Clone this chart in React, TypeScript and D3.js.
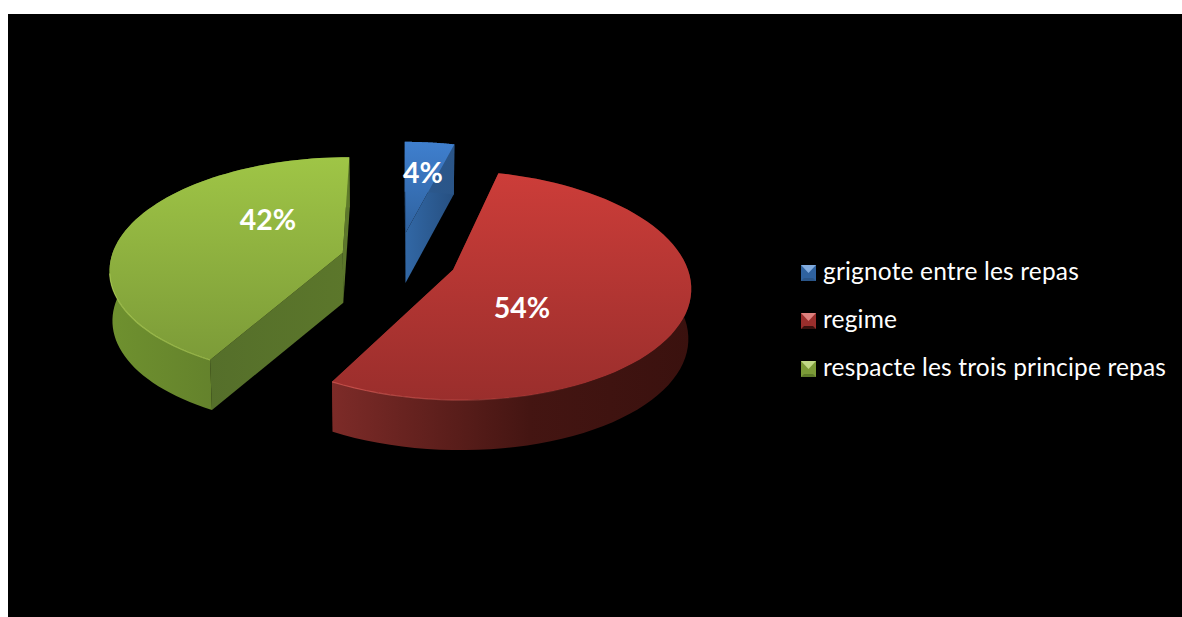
import React from "react";
import * as d3 from "d3";

// Chart content
const categories = ["grignote entre les repas", "regime", "respacte les trois principe repas"];
const shares = [4, 54, 42];

// Colour ramps per slice: top face (far to near), outer wall and cut face
const topStops = [["#3f7fce", "#2f629f"], ["#cc3d39", "#9a2e2c"], ["#9fc546", "#7c9b38"]];
const wallStops = [["#2f609b", "#2a5588"], ["#7d2b28", "#3a110e"], ["#6f912f", "#5f7b2a"]];
const faceStops = [["#3268a6", "#264f80"], ["#8c2c29", "#6e2320"], ["#50692a", "#5c772b"]];
const rimColors = ["#6aa0e0", "#e0625c", "#bfe060"];

// Perspective disc: centre, radii, foreshortening, slice pull-out and thickness
const CX = 398.5;
const CY = 259.5;
const RX = 232;
const RY = 110;
const K = 0.1335;
const EXPLODE = 0.25;
const DEPTH = 50;
const BASE_SHRINK = 0.99;

const project = (u: number, v: number): [number, number] => {
  const w = 1 - K * v;
  return [CX + (RX * u) / w, CY + (RY * v) / w];
};

const slices = d3.pie<number>().sort(null).value((d) => d)(shares);
const toPath = d3.line();

const sliceGeometry = (s: d3.PieArcDatum<number>) => {
  const mid = (s.startAngle + s.endAngle) / 2;
  const ou = EXPLODE * Math.sin(mid);
  const ov = -EXPLODE * Math.cos(mid);
  const angles = d3.range(0, 73).map((i) => s.startAngle + ((s.endAngle - s.startAngle) * i) / 72);
  const rim = angles.map((a) => project(ou + Math.sin(a), ov - Math.cos(a)));
  const apex = project(ou, ov);
  return { rim, apex };
};

// The underside sits one thickness lower and converges slightly towards the centre
const lower = (p: [number, number]): [number, number] => [CX + (p[0] - CX) * BASE_SHRINK, p[1] + DEPTH];

// Label anchors for the percentage texts and the legend column
const labelAnchors: [number, number][] = [[423, 183], [522, 318], [268, 230]];
const legendY = d3.scalePoint<string>().domain(categories).range([273, 369]);

export default function App() {
  return (
    <svg
      width={1182}
      height={617}
      style={{ position: "absolute", left: 0, top: 0, display: "block" }}
    >
      <rect x={8} y={14} width={1174} height={603} fill="#000" />
      <defs>
        {slices.map((s, i) => {
          const { rim, apex } = sliceGeometry(s);
          const xs = rim.map((p) => p[0]).concat(apex[0]);
          const ys = rim.map((p) => p[1]).concat(apex[1]);
          return (
            <React.Fragment key={i}>
              <linearGradient id={`top${i}`} gradientUnits="userSpaceOnUse" x1={0} x2={0} y1={d3.min(ys)} y2={d3.max(ys)}>
                <stop offset="0" stopColor={topStops[i][0]} />
                <stop offset="1" stopColor={topStops[i][1]} />
              </linearGradient>
              <linearGradient id={`wall${i}`} gradientUnits="userSpaceOnUse" y1={0} y2={0} x1={d3.min(xs)} x2={d3.max(xs)}>
                <stop offset="0" stopColor={wallStops[i][0]} />
                <stop offset="0.55" stopColor={d3.interpolateRgb(wallStops[i][0], wallStops[i][1])(0.85)} />
                <stop offset="1" stopColor={wallStops[i][1]} />
              </linearGradient>
              <linearGradient id={`face${i}`} gradientUnits="userSpaceOnUse" y1={0} y2={0} x1={d3.min(xs)} x2={d3.max(xs)}>
                <stop offset="0" stopColor={faceStops[i][0]} />
                <stop offset="1" stopColor={faceStops[i][1]} />
              </linearGradient>
              {/* Rim highlight fades out towards the right of the disc */}
              <linearGradient id={`rim${i}`} gradientUnits="userSpaceOnUse" y1={0} y2={0} x1={CX - 300} x2={CX + 190}>
                <stop offset="0" stopColor={rimColors[i]} stopOpacity={0.6} />
                <stop offset="0.6" stopColor={rimColors[i]} stopOpacity={0.6} />
                <stop offset="1" stopColor={rimColors[i]} stopOpacity={0} />
              </linearGradient>
            </React.Fragment>
          );
        })}
      </defs>

      {slices.map((s, i) => {
        const { rim, apex } = sliceGeometry(s);
        const wall = [...rim, ...rim.map(lower).reverse()];
        const first = rim[0];
        const last = rim[rim.length - 1];
        const startFace = [apex, first, lower(first), lower(apex)];
        const endFace = [apex, last, lower(last), lower(apex)];
        const frontRim = rim.filter((p) => p[1] > CY + 10 && p[0] < CX + 190);
        return (
          <g key={categories[i]}>
            <path d={toPath(startFace) + "Z"} fill={`url(#face${i})`} />
            <path d={toPath(endFace) + "Z"} fill={`url(#face${i})`} />
            <path d={toPath(wall) + "Z"} fill={`url(#wall${i})`} />
            <path d={toPath([apex, ...rim]) + "Z"} fill={`url(#top${i})`} />
            {frontRim.length > 1 && (
              <path d={toPath(frontRim) ?? ""} fill="none" stroke={`url(#rim${i})`} strokeWidth={1.2} />
            )}
          </g>
        );
      })}

      {slices.map((s, i) => (
        <text
          key={i}
          x={labelAnchors[i][0]}
          y={labelAnchors[i][1]}
          textAnchor="middle"
          fill="#fff"
          fontFamily="Lato, 'Open Sans', sans-serif"
          fontWeight={700}
          fontSize={28.5}
        >
          {`${s.value}%`}
        </text>
      ))}

      {categories.map((c, i) => {
        const y = legendY(c) as number;
        const x0 = 801;
        const x1 = 816;
        const y0 = y - 8;
        const y1 = y + 8;
        const b = 3;
        return (
          <g key={c}>
            <rect x={x0} y={y0} width={x1 - x0} height={y1 - y0} fill={topStops[i][1]} />
            <polygon
              points={`${x0},${y0} ${x1},${y0} ${x1 - 7.5},${y0 + 8}`}
              fill={d3.interpolateRgb(topStops[i][0], "#fff")(0.35)}
            />
            <polygon
              points={`${x0},${y1} ${x1},${y1} ${x1 - b},${y1 - b} ${x0 + b},${y1 - b}`}
              fill={wallStops[i][1]}
            />
            <text
              x={823}
              y={y + 7}
              fill="#fff"
              fontFamily="Lato, 'Open Sans', sans-serif"
              fontSize={24.5}
              letterSpacing={0.17}
            >
              {c}
            </text>
          </g>
        );
      })}
    </svg>
  );
}
